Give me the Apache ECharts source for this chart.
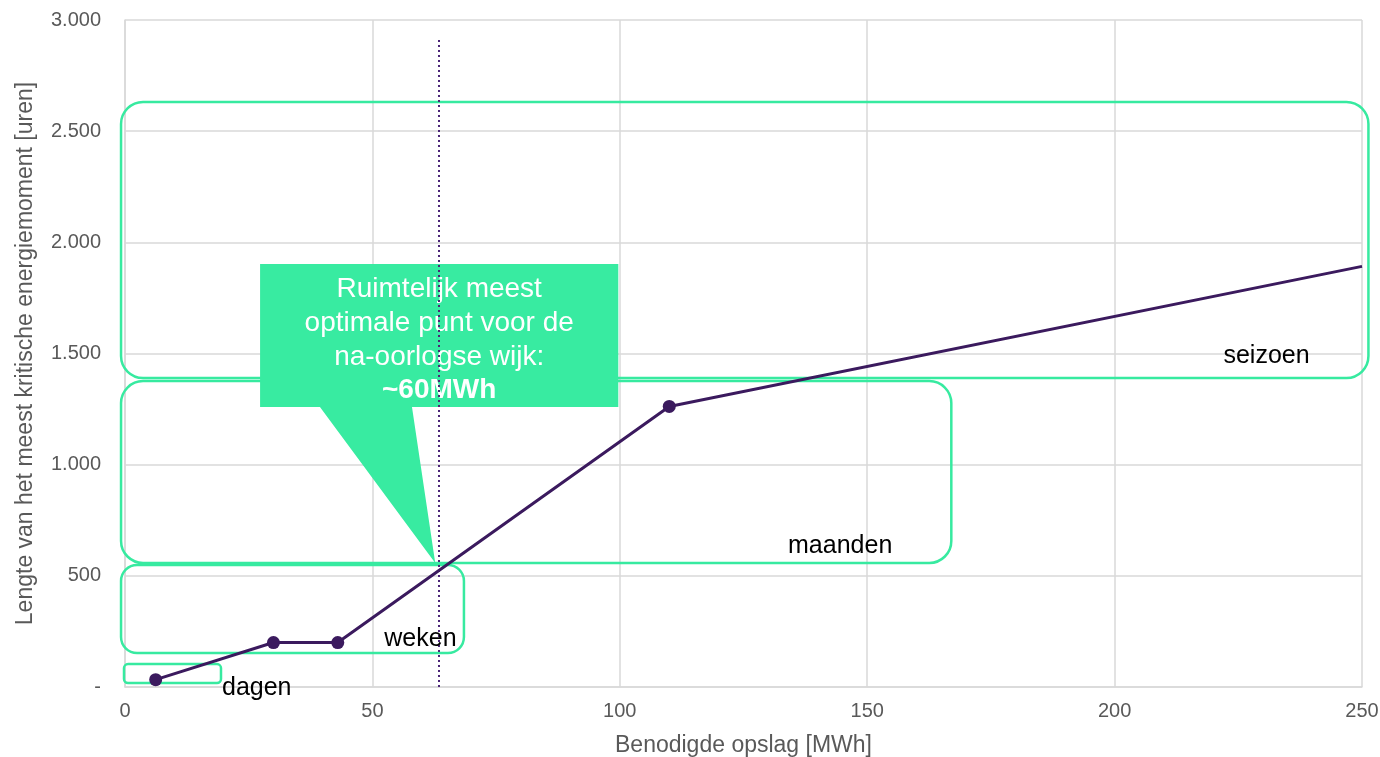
<!DOCTYPE html>
<html>
<head>
<meta charset="utf-8">
<script src="https://cdn.jsdelivr.net/npm/echarts@6/dist/echarts.min.js"></script>
<style>
  html, body { margin: 0; padding: 0; background: #ffffff; }
  #chart { width: 1380px; height: 757px; }
</style>
</head>
<body>
<div id="chart"></div>
<script>
// Storage requirement (MWh) vs. length of the most critical energy moment (hours)
const storageMWh    = [6.2, 30, 43, 110, 250];
const criticalHours = [33, 200, 200, 1262, 1892];
const hasMarker     = [true, true, true, true, false];

// Axis ranges / ticks
const xMin = 0, xMax = 250, xStep = 50;
const yMin = 0, yMax = 3000, yStep = 500;

// Optimum storage size (vertical reference line)
const optimumMWh = 63.5;
const optimumTop = 2920;

// Time-scale bands: name, MWh from/to, hours from/to
const bandNames  = ['dagen', 'weken', 'maanden', 'seizoen'];
const bandXFrom  = [-0.2, -0.8, -0.8, -0.8];
const bandXTo    = [19.4, 68.5, 167, 251.3];
const bandYFrom  = [18, 153, 558, 1390];
const bandYTo    = [103, 549, 1376, 2631];

// Callout text
const calloutLines = ['Ruimtelijk meest', 'optimale punt voor de', 'na-oorlogse wijk:'];
const calloutValue = '~60MWh';

const GREEN = '#37eaa0';
const PURPLE = '#3b1a5e';
const GREY_TEXT = '#595959';
const FONT = '"Liberation Sans", Arial, sans-serif';

const chart = echarts.init(document.getElementById('chart'), null, { renderer: 'canvas' });

function fmtThousands(v) {
  if (v === 0) return '-';
  return String(v).replace(/\B(?=(\d{3})+(?!\d))/g, '.');
}

const seriesData = storageMWh.map((x, i) => ({
  value: [x, criticalHours[i]],
  symbol: hasMarker[i] ? 'circle' : 'none'
}));

chart.setOption({
  animation: false,
  textStyle: { fontFamily: FONT },
  grid: { left: 125, right: 18, top: 20, bottom: 70, containLabel: false, outerBoundsMode: 'none' },
  xAxis: {
    type: 'value', min: xMin, max: xMax, interval: xStep,
    name: 'Benodigde opslag [MWh]',
    nameLocation: 'middle', nameGap: 47,
    nameTextStyle: { color: GREY_TEXT, fontSize: 23, fontFamily: FONT },
    axisLine: { show: true, lineStyle: { color: '#d9d9d9', width: 1.5 } },
    axisTick: { show: false },
    axisLabel: { color: GREY_TEXT, fontSize: 20, margin: 14, fontFamily: FONT },
    splitLine: { show: true, lineStyle: { color: '#d9d9d9', width: 1.5 } }
  },
  yAxis: {
    type: 'value', min: yMin, max: yMax, interval: yStep,
    name: 'Lengte van het meest kritische energiemoment [uren]',
    nameLocation: 'middle', nameGap: 88,
    nameTextStyle: { color: GREY_TEXT, fontSize: 23, fontFamily: FONT },
    axisLine: { show: true, lineStyle: { color: '#d9d9d9', width: 1.5 } },
    axisTick: { show: false },
    axisLabel: { color: GREY_TEXT, fontSize: 20, margin: 24, fontFamily: FONT, formatter: fmtThousands },
    splitLine: { show: true, lineStyle: { color: '#d9d9d9', width: 1.5 } }
  },
  series: [{
    type: 'line',
    data: seriesData,
    symbolSize: 13,
    itemStyle: { color: PURPLE },
    lineStyle: { color: PURPLE, width: 3 },
    z: 5,
    markLine: {
      silent: true,
      symbol: 'none',
      label: { show: false },
      lineStyle: { color: '#4a2477', type: [2, 3], width: 2 },
      data: [[{ coord: [optimumMWh, 0] }, { coord: [optimumMWh, optimumTop] }]]
    }
  }]
});

// Annotations positioned in data space through the grid's scales
function px(x, y) { return chart.convertToPixel({ gridIndex: 0 }, [x, y]); }

const graphics = [];
const bandRadius = [4, 16, 22, 22];
const bandLabelAt = [[19.6, -5], [52.4, 216], [134.0, 635], [222.0, 1490]];

bandNames.forEach((name, i) => {
  const p0 = px(bandXFrom[i], bandYTo[i]);
  const p1 = px(bandXTo[i], bandYFrom[i]);
  graphics.push({
    type: 'rect', z: 1, silent: true,
    shape: { x: p0[0], y: p0[1], width: p1[0] - p0[0], height: p1[1] - p0[1], r: bandRadius[i] },
    style: { fill: 'none', stroke: GREEN, lineWidth: 2.5 }
  });
  const lp = px(bandLabelAt[i][0], bandLabelAt[i][1]);
  graphics.push({
    type: 'text', z: 6, silent: true,
    x: lp[0], y: lp[1],
    style: { text: name, fill: '#000000', font: '25px ' + FONT, textAlign: 'left', textVerticalAlign: 'middle' }
  });
});

// Callout box with a tail pointing at the optimum on the curve
const cTL = px(27.3, 1903);
const cBR = px(99.7, 1259);
const tailL = px(39.4, 1259);
const tailR = px(58.0, 1259);
const tip = px(62.7, 558);
graphics.push({
  type: 'polygon', z: 3, silent: true,
  shape: { points: [
    [cTL[0], cTL[1]], [cBR[0], cTL[1]], [cBR[0], cBR[1]],
    [tailR[0], cBR[1]], [tip[0], tip[1]], [tailL[0], cBR[1]], [cTL[0], cBR[1]]
  ] },
  style: { fill: '#38eba1' }
});
const cx = (cTL[0] + cBR[0]) / 2;
graphics.push({
  type: 'text', z: 4, silent: true,
  x: cx, y: cTL[1] + 8,
  style: {
    text: calloutLines.join('\n') + '\n{b|' + calloutValue + '}',
    fill: '#ffffff',
    font: '28px ' + FONT,
    lineHeight: 34,
    textAlign: 'center',
    textVerticalAlign: 'top',
    rich: { b: { fontWeight: 'bold', fontSize: 28, fill: '#ffffff', fontFamily: FONT, lineHeight: 32 } }
  }
});

chart.setOption({ graphic: graphics });
</script>
</body>
</html>
